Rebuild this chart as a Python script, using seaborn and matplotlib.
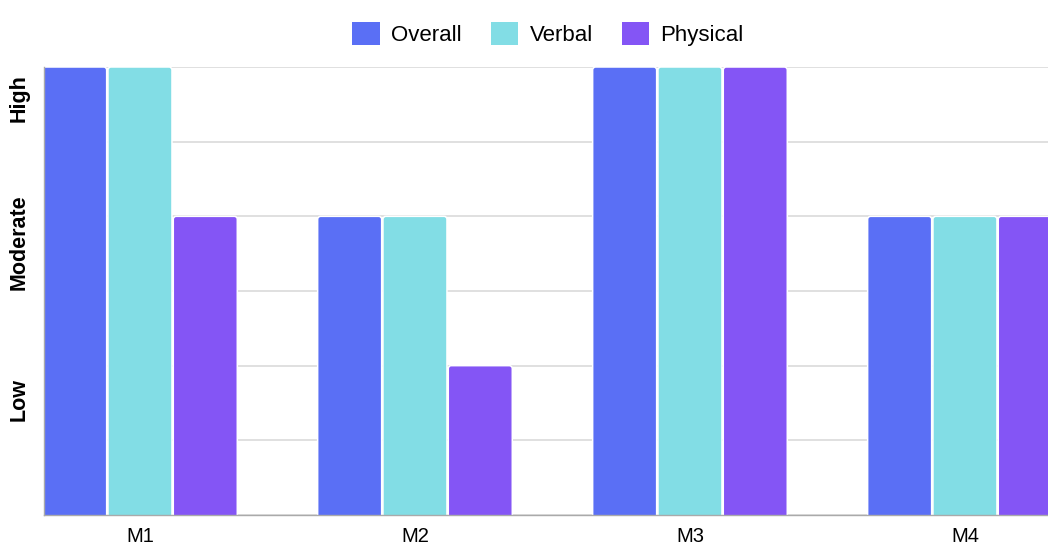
import matplotlib
matplotlib.use("Agg")
import matplotlib.pyplot as plt
import seaborn as sns
import pandas as pd
from matplotlib.patches import Patch, FancyBboxPatch

# Ratings per model (0-6 scale: Low ~ 2, Moderate ~ 4, High ~ 6)
models = ["M1", "M2", "M3", "M4"]
overall = [6, 4, 6, 4]
verbal = [6, 4, 6, 4]
physical = [4, 2, 6, 4]
series_names = ["Overall", "Verbal", "Physical"]
colors = ["#5A6FF5", "#82DDE5", "#8455F5"]

# Level labels and where they sit on the y scale
level_labels = ["Low", "Moderate", "High"]
level_positions = [1.55, 3.65, 5.58]

df = pd.DataFrame({
    "model": models * 3,
    "series": [s for s in series_names for _ in models],
    "value": overall + verbal + physical,
})

sns.set_theme(style="white")
plt.rcParams["font.family"] = ["Liberation Sans", "DejaVu Sans"]

W, H = 1048, 545
fig = plt.figure(figsize=(W / 100, H / 100), dpi=100)
ax_left, ax_bottom, ax_top = 44, 515, 67
ax = fig.add_axes([ax_left / W, (H - ax_bottom) / H, 1 - ax_left / W, (ax_bottom - ax_top) / H])

sns.barplot(
    data=df, x="model", y="value", hue="series",
    hue_order=series_names, palette=colors, order=models,
    width=0.7125, gap=0.02, linewidth=0,
    saturation=1, legend=False, ax=ax, zorder=3,
)

xlim = (-0.349, 3.302)
ylim = (0, 6)
ax.set_xlim(*xlim)
ax.set_ylim(*ylim)

# swap the plain rectangles for ones with softly rounded corners
px_per_x = (W - ax_left) / (xlim[1] - xlim[0])
px_per_y = (ax_bottom - ax_top) / (ylim[1] - ylim[0])
radius_px = 3.0
r = radius_px / px_per_x
aspect = px_per_x / px_per_y
for bar in list(ax.patches):
    x, w, h = bar.get_x(), bar.get_width(), bar.get_height()
    if h <= 0:
        continue
    ext = 2 * radius_px / px_per_y  # push the bottom corners below the axis
    rounded = FancyBboxPatch(
        (x, -ext), w, h + ext,
        boxstyle=f"round,pad=0,rounding_size={r}",
        mutation_aspect=aspect,
        facecolor=bar.get_facecolor(), edgecolor="white", linewidth=1.1,
        zorder=3,
    )
    bar.remove()
    ax.add_patch(rounded)

ax.set_xlabel("")
ax.set_ylabel("")

# gridlines on whole units, labels on minor ticks
ax.set_yticks(range(0, 7))
ax.set_yticklabels([])
ax.set_yticks(level_positions, minor=True)
ax.set_yticklabels(level_labels, minor=True, rotation=90,
                   fontsize=15.5, fontweight="bold", color="black", va="center")
ax.tick_params(axis="y", which="both", length=0)
ax.tick_params(axis="y", which="minor", pad=10)
ax.grid(axis="y", color="#dddddd", linewidth=1.3, zorder=0)
ax.set_axisbelow(True)

ax.tick_params(axis="x", length=0, labelsize=14.5, labelcolor="black", pad=9)

for side in ["top", "right"]:
    ax.spines[side].set_visible(False)
for side in ["left", "bottom"]:
    ax.spines[side].set_color("#aaaaaa")
    ax.spines[side].set_linewidth(1.0)
    ax.spines[side].set_zorder(4)

handles = [Patch(facecolor=c, edgecolor="none", label=n) for c, n in zip(colors, series_names)]
leg = fig.legend(
    handles=handles, loc="center", bbox_to_anchor=(548 / W, 1 - 34 / H),
    ncol=3, frameon=False, fontsize=16,
    handlelength=1.25, handleheight=1.25, handletextpad=0.5, columnspacing=1.3,
)
for t in leg.get_texts():
    t.set_color("black")

fig.savefig("out.png", dpi=100)
